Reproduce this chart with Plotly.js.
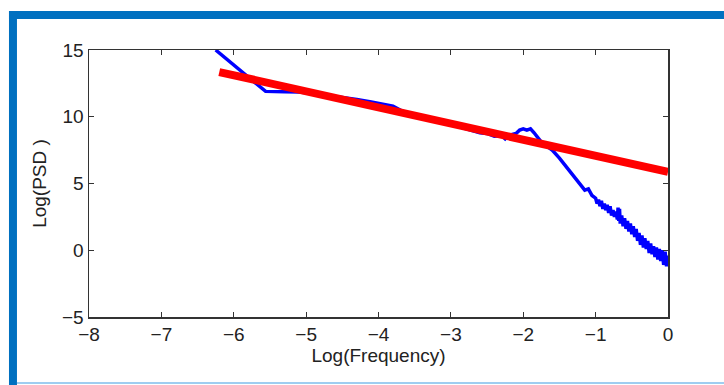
<!DOCTYPE html>
<html>
<head>
<meta charset="utf-8">
<script src="https://cdn.plot.ly/plotly-3.0.1.min.js"></script>
<style>
html,body{margin:0;padding:0;background:#fff;}
#chart{width:724px;height:385px;}
</style>
</head>
<body>
<div id="chart"></div>
<script>
// Measured PSD (blue)
var psdLogFreq = [-6.25, -5.56, -5.3, -5.1, -4.9, -4.7, -4.5, -4.3, -4.1, -3.9, -3.8, -3.7, -3.5, -3.3, -3.1, -2.9, -2.7, -2.6, -2.5, -2.4, -2.3, -2.25, -2.2, -2.1, -2.05, -2.0, -1.95, -1.9, -1.85, -1.8, -1.75, -1.7, -1.6, -1.5, -1.4, -1.3, -1.2, -1.15, -1.1, -1.05,
  -1.00, -0.98, -0.96, -0.94, -0.92, -0.90, -0.88, -0.86, -0.84, -0.82, -0.80, -0.78, -0.76, -0.74, -0.72, -0.70, -0.69, -0.68, -0.67, -0.66, -0.64, -0.62, -0.60, -0.58, -0.56, -0.54, -0.52, -0.50, -0.48, -0.46, -0.44, -0.42, -0.40, -0.38, -0.36, -0.34, -0.32, -0.30, -0.28, -0.26, -0.24, -0.22, -0.20, -0.18, -0.16, -0.14, -0.12, -0.10, -0.08, -0.06, -0.04, -0.02, 0.00];
var psdLogValue = [15.0, 11.9, 11.88, 11.85, 11.75, 11.6, 11.5, 11.3, 11.1, 10.9, 10.8, 10.5, 10.05, 9.9, 9.6, 9.3, 8.95, 8.8, 8.75, 8.55, 8.6, 8.35, 8.6, 8.75, 9.0, 9.1, 9.0, 9.1, 8.8, 8.4, 8.1, 7.9, 7.5, 6.9, 6.2, 5.6, 4.9, 4.5, 4.6, 4.1,
  3.9, 3.5, 3.8, 3.3, 3.7, 3.1, 3.5, 3.0, 3.4, 2.8, 3.3, 2.6, 3.0, 2.5, 2.9, 2.3, 3.2, 2.2, 3.1, 2.0, 2.6, 1.8, 2.4, 1.6, 2.2, 1.4, 2.0, 1.2, 1.8, 1.0, 1.6, 0.7, 1.3, 0.4, 1.1, 0.2, 0.9, 0.1, 0.7, -0.2, 0.5, -0.3, 0.3, -0.5, 0.2, -0.7, 0.1, -0.8, 0.0, -1.1, -0.1, -1.2, -0.4];
// Linear fit (red)
var fitLogFreq = [-6.2, 0];
var fitLogValue = [13.35, 5.87];
// Axis ticks
var xTicks = [-8, -7, -6, -5, -4, -3, -2, -1, 0];
var yTicks = [-5, 0, 5, 10, 15];
var xTitle = 'Log(Frequency)';
var yTitle = 'Log(PSD )';

var frameBlue = '#0070c0';
var fontFam = 'Liberation Sans, Arial, sans-serif';
var traces = [
  {x: psdLogFreq, y: psdLogValue, mode: 'lines', line: {color: '#0000ff', width: 3.5}, hoverinfo: 'none'},
  {x: fitLogFreq, y: fitLogValue, mode: 'lines', line: {color: '#ff0000', width: 8}, hoverinfo: 'none'}
];
function minusLabel(v){ return v < 0 ? '\u2212' + Math.abs(v) : String(v); }
var axisCommon = {
  showgrid: false, zeroline: false, showline: true, linecolor: '#333', linewidth: 1.5,
  mirror: 'ticks', ticks: 'inside', ticklen: 5, tickwidth: 1.2, tickcolor: '#333',
  tickfont: {family: fontFam, size: 19, color: '#222'}
};
var layout = {
  width: 724, height: 385,
  margin: {l: 89, r: 56, t: 50, b: 68},
  paper_bgcolor: '#fff', plot_bgcolor: '#fff',
  showlegend: false,
  xaxis: Object.assign({}, axisCommon, {
    range: [-8, 0], tickvals: xTicks, ticktext: xTicks.map(minusLabel),
    title: {text: xTitle, font: {family: fontFam, size: 19, color: '#222'}, standoff: 4}
  }),
  yaxis: Object.assign({}, axisCommon, {
    range: [-5, 15], tickvals: yTicks, ticktext: yTicks.map(minusLabel),
    title: {text: yTitle, font: {family: fontFam, size: 19, color: '#222'}, standoff: 10}
  }),
  shapes: [
    {type: 'rect', xref: 'paper', yref: 'paper', x0: -0.1382, x1: 1.0967, y0: 1.1161, y1: 1.1461, fillcolor: frameBlue, line: {width: 0}, layer: 'above'},
    {type: 'rect', xref: 'paper', yref: 'paper', x0: -0.1382, x1: -0.1244, y0: -0.26, y1: 1.1461, fillcolor: frameBlue, line: {width: 0}, layer: 'above'},
    {type: 'rect', xref: 'paper', yref: 'paper', x0: -0.1244, x1: 1.0967, y0: -0.2509, y1: -0.2434, fillcolor: '#9fcdf0', line: {width: 0}, layer: 'above'}
  ]
};
Plotly.newPlot('chart', traces, layout, {staticPlot: true, displayModeBar: false});
</script>
</body>
</html>
